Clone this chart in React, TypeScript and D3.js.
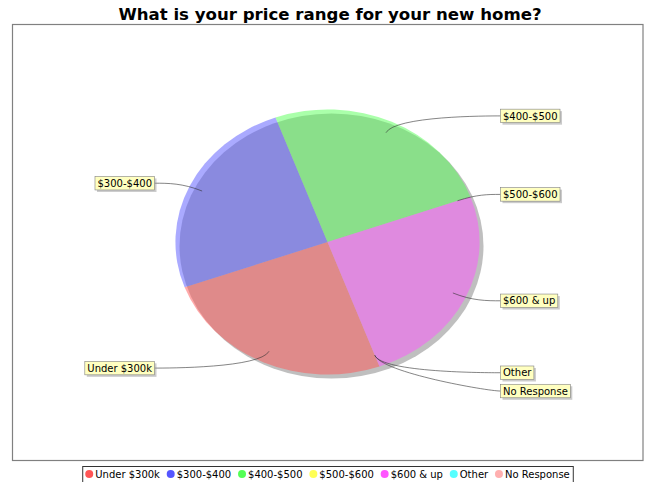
import React, { useEffect, useRef } from "react";
import * as d3 from "d3";

const title = "What is your price range for your new home?";
const categories = ["Under $300k", "$300-$400", "$400-$500", "$500-$600", "$600 & up", "Other", "No Response"];
const values = [25, 25, 25, 0, 25, 0, 0];
const colors = ["#FF5555", "#5555FF", "#55FF55", "#FFFF55", "#FF55FF", "#55FFFF", "#FFAFAF"];

export default function App() {
  const ref = useRef<SVGSVGElement>(null);
  useEffect(() => {
    const svg = d3.select(ref.current);
    svg.selectAll("*").remove();
    const W = 645, H = 482;
    const font = "DejaVu Sans";
    svg.append("rect").attr("width", W).attr("height", H).attr("fill", "#fff");

    svg.append("text").attr("x", 330).attr("y", 20).attr("text-anchor", "middle")
      .attr("font-family", font).attr("font-weight", "bold").attr("font-size", 16.6)
      .attr("fill", "#000").text(title);

    svg.append("rect").attr("x", 12.5).attr("y", 24.5).attr("width", 630.5).attr("height", 436)
      .attr("fill", "none").attr("stroke", "#808080").attr("stroke-width", 1.2);

    const cx = 327.5, cy = 242, rx = 152, ry = 132.5;
    const start = (160 * Math.PI) / 180;
    const pie = d3.pie<number>().sort(null).value((d) => d).startAngle(start).endAngle(start + 2 * Math.PI);
    const arcs = pie(values);
    const arc = d3.arc<d3.PieArcDatum<number>>().innerRadius(0).outerRadius(1);

    svg.append("ellipse").attr("cx", cx + 4).attr("cy", cy + 4).attr("rx", rx).attr("ry", ry)
      .attr("fill", "#808080").attr("fill-opacity", 0.5);
    const g = svg.append("g").attr("transform", `translate(${cx},${cy}) scale(${rx},${ry})`);
    g.selectAll("path").data(arcs.filter((a) => a.endAngle > a.startAngle)).join("path")
      .attr("d", arc as any).attr("fill", (d) => colors[d.index]).attr("fill-opacity", 0.5);

    // labels
    const linkPct = 0.91, linkM = 1.05;
    type L = { i: number; mid: number; right: boolean; ty: number; y: number };
    const labels: L[] = arcs.map((a) => {
      const mid = (a.startAngle + a.endAngle) / 2;
      const ty = cy - Math.cos(mid) * ry * linkM;
      return { i: a.index, mid, right: Math.sin(mid) > 0, ty, y: ty };
    });
    const gap = 18.3;
    [true, false].forEach((side) => {
      const s = labels.filter((l) => l.right === side).sort((a, b) => a.ty - b.ty || a.i - b.i);
      for (let k = 1; k < s.length; k++) {
        if (s[k].y < s[k - 1].y + gap) s[k].y = s[k - 1].y + gap;
      }
    });
    const linkG = svg.append("g");
    const boxG = svg.append("g");
    labels.forEach((l) => {
      const sx = Math.sin(l.mid), sy = -Math.cos(l.mid);
      const linkX = cx + sx * rx * linkPct, linkY = cy + sy * ry * linkPct;
      const elbowX = cx + sx * rx * linkM, elbowY = cy + sy * ry * linkM;
      const anchorX = l.right ? cx + rx * linkM : cx - rx * linkM;
      const t = boxG.append("text").attr("font-family", font).attr("font-size", 10).attr("fill", "#000")
        .text(categories[l.i]);
      const tw = (t.node() as SVGTextElement).getComputedTextLength();
      const bw = tw + 5, bh = 13.5;
      const bx = l.right ? 500.5 : 154.5 - bw;
      const by = l.y - bh / 2;
      const targetX = l.right ? bx : bx + bw;
      const p = d3.path();
      p.moveTo(targetX, l.y);
      p.bezierCurveTo(anchorX, l.y, elbowX, elbowY, linkX, linkY);
      linkG.append("path").attr("d", p.toString()).attr("fill", "none").attr("stroke", "#333").attr("stroke-width", 0.6);
      boxG.insert("rect", "text").attr("x", bx + 2).attr("y", by + 2).attr("width", bw).attr("height", bh)
        .attr("fill", "#979797").attr("fill-opacity", 0.5);
      boxG.insert("rect", "text").attr("x", bx).attr("y", by).attr("width", bw).attr("height", bh)
        .attr("fill", "#FFFFC0").attr("stroke", "#808080").attr("stroke-width", 0.6);
      t.attr("x", bx + 2.5).attr("y", l.y + 3.6);
    });

    // legend
    const lg = svg.append("g");
    const items = categories.map((c) => {
      const t = lg.append("text").attr("font-family", font).attr("font-size", 10).attr("fill", "#000").text(c);
      return { t, w: (t.node() as SVGTextElement).getComputedTextLength() };
    });
    const total = 7 + items.reduce((s, it) => s + 6 + it.w, 0) + 6 * 10.8 + 3;
    const lx = 327.5 - total / 2;
    const ly = 474;
    lg.insert("rect", "text").attr("x", lx + 0.5).attr("y", 466.5).attr("width", total).attr("height", 20)
      .attr("fill", "#fff").attr("stroke", "#333").attr("stroke-width", 1);
    let x = lx + 7;
    items.forEach((it, i) => {
      lg.append("circle").attr("cx", x).attr("cy", ly).attr("r", 4).attr("fill", colors[i]);
      it.t.attr("x", x + 6).attr("y", ly + 3.6);
      x += 6 + it.w + 10.8;
    });
  }, []);
  return (
    <svg ref={ref} width={645} height={482} style={{ position: "absolute", left: 0, top: 0 }} />
  );
}
